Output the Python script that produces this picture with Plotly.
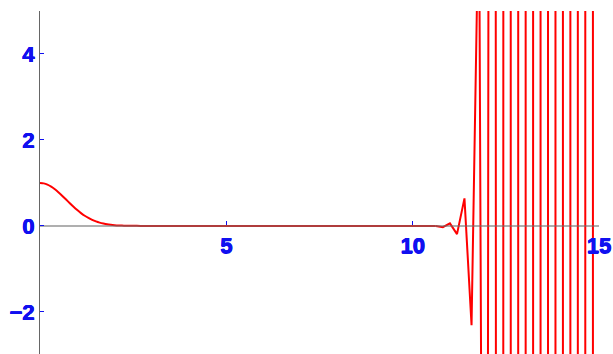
import plotly.graph_objects as go

# Sampled curve: smooth bell near the origin, flat zero, then a growing
# numerical oscillation past x ~ 10.8
x_vals = [0.0, 0.1, 0.2, 0.3, 0.4, 0.5, 0.6, 0.7, 0.8, 0.9, 1.0, 1.1, 1.2,
          1.3, 1.4, 1.5, 1.6, 1.7, 1.8, 1.9, 2.0, 2.1, 2.2, 2.3, 2.4, 2.6,
          2.8, 3.0, 4.0, 6.0, 8.0, 10.0, 10.62, 10.81, 11.0, 11.19, 11.39,
          11.58, 11.78, 11.98, 12.18, 12.38, 12.58, 12.78, 12.98, 13.18,
          13.38, 13.58, 13.78, 13.98, 14.18, 14.38, 14.58, 14.78, 15.0]
y_vals = [1.0, 0.990, 0.961, 0.914, 0.852, 0.779, 0.698, 0.613, 0.527, 0.445,
          0.368, 0.298, 0.237, 0.185, 0.141, 0.105, 0.077, 0.056, 0.039,
          0.027, 0.018, 0.012, 0.008, 0.005, 0.003, 0.0012,
          0.0004, 0.0001, 0.0, 0.0, 0.0, 0.0, 0.0, -0.03, 0.06, -0.19, 0.64,
          -2.31, 8.0, -32.0, 110.0, -313.0, 890.0, -2540.0, 7240.0,
          -20600.0, 58800.0, -168000.0, 478000.0, -1360000.0, 3880000.0,
          -11100000.0, 31500000.0, -89800000.0, 256000000.0]

x_ticks = [5, 10, 15]
x_tick_text = ["5", "10", "15"]
y_ticks = [-2, 0, 2, 4]
y_tick_text = ["\u22122", "0", "2", "4"]

x_range = [0, 15]
y_range = [-2.98, 5]

BLUE = "#1010f0"
tick_font = dict(family="Liberation Sans, Arial, sans-serif", size=22,
                 color=BLUE, weight="bold",
                 shadow=f"0.5px 0 0 {BLUE}, -0.3px 0 0 {BLUE}, 0 0.3px 0 {BLUE}")

# the smooth part is drawn as a spline, the unstable tail with straight segments
split = x_vals.index(10.62)

fig = go.Figure()
fig.add_trace(go.Scatter(
    x=x_vals[:split + 1], y=y_vals[:split + 1], mode="lines",
    line=dict(color="#ff0000", width=2, shape="spline", smoothing=0.6),
    hoverinfo="skip", showlegend=False,
))
fig.add_trace(go.Scatter(
    x=x_vals[split:], y=y_vals[split:], mode="lines",
    line=dict(color="#ff0000", width=2),
    hoverinfo="skip", showlegend=False,
))

# horizontal axis sits at y = 0
zero_pos = (0 - y_range[0]) / (y_range[1] - y_range[0])

fig.update_layout(
    width=613, height=354,
    margin=dict(l=40, r=14, t=11, b=0),
    plot_bgcolor="white", paper_bgcolor="white",
    showlegend=False,
    xaxis=dict(
        range=x_range, anchor="free", position=zero_pos, side="bottom",
        showgrid=False, zeroline=False,
        showline=True, linecolor="rgba(110,110,110,0.55)", linewidth=2,
        layer="above traces",
        tickmode="array", tickvals=x_ticks, ticktext=x_tick_text,
        ticks="inside", ticklen=4, tickwidth=1, tickcolor=BLUE,
        tickfont=tick_font,
    ),
    yaxis=dict(
        range=y_range,
        showgrid=False, zeroline=False,
        showline=True, linecolor="#666666", linewidth=1,
        tickmode="array", tickvals=y_ticks, ticktext=y_tick_text,
        ticks="inside", ticklen=4, tickwidth=1, tickcolor=BLUE,
        tickfont=tick_font,
    ),
)

fig.write_html("out.html")
